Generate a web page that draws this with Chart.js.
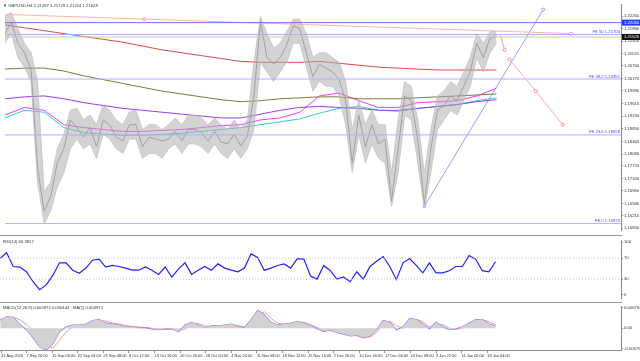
<!DOCTYPE html>
<html>
<head>
<meta charset="utf-8">
<script src="https://cdn.jsdelivr.net/npm/chart.js@4.4.1/dist/chart.umd.min.js"></script>
<style>
  html, body { margin: 0; padding: 0; background: #fff; }
  #wrap { position: relative; width: 640px; height: 361px; overflow: hidden; font-family: 'Liberation Sans', sans-serif; }
  .pane { position: absolute; left: 0; width: 640px; }
  .pane canvas { display: block; }
  .lbl { position: absolute; font-size: 4.2px; line-height: 5px; color: #333; white-space: nowrap; }
  .sep { position: absolute; left: 0; width: 622px; height: 1px; background: #9a9a9a; }
</style>
</head>
<body>
<div id="wrap">
  <div class="pane" style="top:0;height:235px"><canvas id="main" width="640" height="235"></canvas></div>
  <div class="pane" style="top:237px;height:65px"><canvas id="rsi" width="640" height="65"></canvas></div>
  <div class="pane" style="top:303px;height:58px"><canvas id="macd" width="640" height="58"></canvas></div>
  <div class="sep" style="top:235px"></div>
  <div class="sep" style="top:302px"></div>
  <div class="lbl" style="left:3px;top:3px">▼ GBPUSD,H4 1.21287 1.21729 1.21214 1.21628</div>
  <div class="lbl" style="left:3px;top:239px">RSI(14) 66.3817</div>
  <div class="lbl" style="left:3px;top:305px">MACD(12,26,9) 0.000972 0.000444 ~MA(1) 0.000972</div>
</div>
<script>
// bar index axis (H4 bars), 31 Aug 2020 .. 19 Jan 2021
const X_MAX = 752;
const STEP = 8;     // bars between samples of price / indicators
const MA_STEP = 24; // bars between samples of moving averages

// price every 8 bars: high, low and close of each group
const highs = [1.22251, 1.22368, 1.21874, 1.21438, 1.21147, 1.20276, 1.16934, 1.17225, 1.18242, 1.18678,
  1.19404, 1.19462, 1.19113, 1.19259, 1.18968, 1.19549, 1.19404, 1.19113, 1.18968, 1.19346,
  1.19404, 1.18823, 1.18968, 1.18968, 1.18823, 1.18968, 1.19172, 1.18968, 1.19259, 1.19259,
  1.19172, 1.18968, 1.19172, 1.18968, 1.18823, 1.19113, 1.18823, 1.19113, 1.20857, 1.22251,
  1.21728, 1.21293, 1.21438, 1.21786, 1.22164, 1.22164, 1.21728, 1.21002, 1.21147, 1.21147,
  1.21002, 1.20857, 1.20276, 1.18823, 1.19695, 1.18968, 1.19404, 1.18968, 1.18968, 1.17515,
  1.19113, 1.20276, 1.20130, 1.19113, 1.17515, 1.18823, 1.19840, 1.19985, 1.20276, 1.20130,
  1.20566, 1.21002, 1.21728, 1.21438, 1.21786, 1.21786];
const lows = [1.21438, 1.21728, 1.21002, 1.20711, 1.20276, 1.17225, 1.15975, 1.16353, 1.17080, 1.17515,
  1.18242, 1.18532, 1.18242, 1.18387, 1.17951, 1.18678, 1.18532, 1.18242, 1.18096, 1.18532,
  1.18532, 1.17951, 1.18096, 1.18096, 1.17951, 1.18242, 1.18387, 1.18096, 1.18387, 1.18387,
  1.18300, 1.18096, 1.18387, 1.18096, 1.17951, 1.18242, 1.17951, 1.18242, 1.18823, 1.20857,
  1.20566, 1.20276, 1.20566, 1.20857, 1.21438, 1.21438, 1.20711, 1.19985, 1.20276, 1.20130,
  1.20130, 1.19840, 1.18968, 1.17515, 1.18678, 1.17806, 1.18387, 1.17951, 1.17806, 1.16498,
  1.17515, 1.19259, 1.19113, 1.17806, 1.16440, 1.17515, 1.18823, 1.19113, 1.19404, 1.19259,
  1.19695, 1.20130, 1.21002, 1.20566, 1.21147, 1.21438];
const closes = [1.21728, 1.22077, 1.21438, 1.21147, 1.20624, 1.17661, 1.16353, 1.16789, 1.17806, 1.18242,
  1.19113, 1.18881, 1.18590, 1.18881, 1.18300, 1.19113, 1.18968, 1.18590, 1.18474, 1.18968,
  1.18968, 1.18300, 1.18590, 1.18532, 1.18474, 1.18532, 1.18765, 1.18474, 1.18823, 1.18823,
  1.18736, 1.18474, 1.18765, 1.18445, 1.18387, 1.18678, 1.18329, 1.18619, 1.19840, 1.22100,
  1.21002, 1.20799, 1.21002, 1.21380, 1.21960, 1.21874, 1.21147, 1.20421, 1.20799, 1.20682,
  1.20566, 1.20334, 1.19695, 1.17800, 1.19259, 1.18300, 1.18968, 1.18387, 1.18532, 1.16650,
  1.18242, 1.19840, 1.19695, 1.18532, 1.16550, 1.18242, 1.19404, 1.19549, 1.19840, 1.19695,
  1.20130, 1.20566, 1.21438, 1.21002, 1.21583, 1.21641];

// moving averages every 24 bars
const ma200 = [1.21990, 1.21903, 1.21816, 1.21728, 1.21641, 1.21554, 1.21467, 1.21351, 1.21234, 1.21147,
  1.21060, 1.20973, 1.20886, 1.20857, 1.20857, 1.20857, 1.20886, 1.20828, 1.20770, 1.20711,
  1.20682, 1.20653, 1.20624, 1.20624, 1.20624, 1.20624];
const ma100 = [1.20653, 1.20682, 1.20682, 1.20595, 1.20450, 1.20334, 1.20217, 1.20101, 1.19985, 1.19898,
  1.19811, 1.19724, 1.19666, 1.19695, 1.19753, 1.19782, 1.19811, 1.19811, 1.19753, 1.19753,
  1.19753, 1.19782, 1.19811, 1.19840, 1.19869, 1.19898];
const ma50 = [1.19753, 1.19811, 1.19840, 1.19753, 1.19637, 1.19549, 1.19462, 1.19404, 1.19346, 1.19288,
  1.19230, 1.19172, 1.19172, 1.19288, 1.19404, 1.19491, 1.19520, 1.19491, 1.19462, 1.19404,
  1.19404, 1.19462, 1.19520, 1.19578, 1.19666, 1.19724];
const ma20 = [1.19259, 1.19491, 1.19404, 1.18968, 1.18881, 1.18823, 1.18765, 1.18765, 1.18794, 1.18823,
  1.18881, 1.18939, 1.18968, 1.19113, 1.19172, 1.19346, 1.19840, 1.19927, 1.19695, 1.19491,
  1.19491, 1.19637, 1.19666, 1.19695, 1.19840, 1.20072];
const ma30 = [1.19172, 1.19404, 1.19346, 1.18881, 1.18736, 1.18678, 1.18649, 1.18649, 1.18678, 1.18707,
  1.18765, 1.18823, 1.18881, 1.18968, 1.19055, 1.19143, 1.19317, 1.19462, 1.19520, 1.19404,
  1.19375, 1.19462, 1.19520, 1.19578, 1.19695, 1.19782];

// levels and drawn objects
const feNames = ['FE 50', 'FE 38.2', 'FE 23.6', 'FE 0'];
const feLevels = [1.21700, 1.20351, 1.18658, 1.15973];
const blueLevel = 1.22060;
const lastPrice = 1.21625;
const priceTicks = [1.22260, 1.21880, 1.21500, 1.21120, 1.20750, 1.20370, 1.19990, 1.19610, 1.19230,
  1.18850, 1.18460, 1.18080, 1.17720, 1.17340, 1.16960, 1.16580, 1.16210, 1.15830];
const pinkTrendBars = [0, 170, 691];
const pinkTrendPrices = [1.22309, 1.22167, 1.21728];
const blueTrendBars = [512, 657];
const blueTrendPrices = [1.16498, 1.22455];
const projA_Bars = [605, 610];
const projA_Prices = [1.21670, 1.21234];
const projB_Bars = [616, 648, 681];
const projB_Prices = [1.20944, 1.19985, 1.18968];

// RSI(14) every 8 bars
const rsi = [69, 80, 54, 53, 44, 25, 10, 19, 37, 61, 61, 47, 41, 51, 66, 68, 53, 56, 54, 51,
  47, 47, 53, 47, 39, 53, 34, 49, 61, 39, 47, 54, 47, 59, 51, 47, 44, 51, 78, 71,
  47, 51, 56, 59, 51, 69, 68, 36, 30, 56, 46, 30, 34, 25, 44, 30, 54, 64, 73, 54,
  29, 61, 69, 56, 42, 61, 42, 42, 46, 54, 54, 75, 68, 46, 44, 63];
const rsiLevels = [30, 70];

// MACD(12,26,9) every 8 bars
const macdMain = [0.0026, 0.0039, 0.0036, 0.0011, -0.0005, -0.0032, -0.0063, -0.0072, -0.0051, -0.0011,
  0.0005, 0.0011, 0.0011, 0.0014, 0.0026, 0.0029, 0.0017, 0.0014, 0.0011, 0.0005,
  0.0005, 0.0002, 0.0002, -0.0002, -0.0005, -0.0002, -0.0002, -0.0011, 0.0011, 0.0020,
  0.0011, 0.0002, 0.0008, 0.0008, 0.0011, 0.0014, 0.0005, 0.0002, 0.0029, 0.0060,
  0.0045, 0.0020, 0.0011, 0.0014, 0.0017, 0.0023, 0.0017, 0.0008, -0.0002, -0.0011,
  -0.0005, -0.0014, -0.0020, -0.0026, -0.0023, -0.0032, -0.0026, -0.0005, 0.0026, 0.0020,
  -0.0005, 0.0005, 0.0032, 0.0029, 0.0014, -0.0002, 0.0020, 0.0005, -0.0005, -0.0002,
  0.0005, 0.0017, 0.0029, 0.0029, 0.0014, 0.0008];
const macdSignal = [0.0030, 0.0034, 0.0037, 0.0028, 0.0012, -0.0008, -0.0035, -0.0060, -0.0066, -0.0040,
  -0.0012, 0.0004, 0.0010, 0.0012, 0.0020, 0.0026, 0.0024, 0.0018, 0.0014, 0.0009,
  0.0006, 0.0004, 0.0002, 0.0000, -0.0003, -0.0003, -0.0002, -0.0008, -0.0002, 0.0014,
  0.0016, 0.0008, 0.0005, 0.0007, 0.0010, 0.0012, 0.0009, 0.0004, 0.0012, 0.0045,
  0.0055, 0.0033, 0.0017, 0.0013, 0.0015, 0.0020, 0.0020, 0.0012, 0.0002, -0.0007,
  -0.0008, -0.0011, -0.0017, -0.0023, -0.0025, -0.0029, -0.0029, -0.0014, 0.0014, 0.0024,
  0.0008, 0.0000, 0.0020, 0.0030, 0.0022, 0.0004, 0.0012, 0.0012, 0.0000, -0.0003,
  0.0001, 0.0011, 0.0024, 0.0029, 0.0022, 0.0012];
const macdTicks = [0.006794, 0, -0.006794];

// date axis
const dateTickBars = [1, 32, 63, 94, 125, 156, 187, 218, 249, 280, 311, 342, 373, 404, 435, 466, 497, 528, 559, 590];
const dateLabels = ['31 Aug 2020', '7 Sep 20:00', '15 Sep 00:00', '22 Sep 04:00', '29 Sep 08:00', '6 Oct 12:00',
  '13 Oct 16:00', '20 Oct 20:00', '28 Oct 00:00', '4 Nov 04:00', '11 Nov 08:00', '18 Nov 12:00', '25 Nov 16:00',
  '2 Dec 20:00', '10 Dec 00:00', '17 Dec 04:00', '24 Dec 08:00', '3 Jan 22:00', '11 Jan 00:00', '18 Jan 04:00'];

const FONT = 'Liberation Sans';
const AXIS = '#8a8a8a';
const series = (arr, step) => arr.map((v, i) => ({ x: i * step, y: v }));
const pairs = (xs, ys) => xs.map((x, i) => ({ x: x, y: ys[i] }));
const flat = (v) => [{ x: 0, y: v }, { x: X_MAX, y: v }];

const lineDs = (data, color, width, extra) => Object.assign({
  type: 'line', data: data, borderColor: color, borderWidth: width,
  pointRadius: 0, tension: 0, fill: false
}, extra || {});

const rightAxis = (min, max, ticks, fmt) => ({
  position: 'right', min: min, max: max,
  afterFit: (s) => { s.width = 19; },
  afterBuildTicks: (s) => { s.ticks = ticks.map(v => ({ value: v })); },
  ticks: { autoSkip: false, padding: 1, color: '#333', font: { size: 4.2, family: FONT }, callback: fmt },
  grid: { drawOnChartArea: false, tickLength: 2, color: AXIS },
  border: { color: AXIS }
});

const hiddenX = { type: 'linear', min: 0, max: X_MAX, display: false };
const baseOpts = {
  responsive: false, animation: false,
  layout: { padding: 0 },
  plugins: { legend: { display: false }, tooltip: { enabled: false } }
};

// labels on Fibonacci lines and price boxes on the axis
const mainExtras = {
  id: 'mainExtras',
  afterDraw(chart) {
    const { ctx, chartArea: a, scales: { y } } = chart;
    ctx.save();
    ctx.font = '4.2px "' + FONT + '"';
    ctx.textAlign = 'right';
    ctx.textBaseline = 'bottom';
    ctx.fillStyle = '#4a4aff';
    feLevels.forEach((v, i) => ctx.fillText(feNames[i] + ' ' + v.toFixed(5), a.right - 1, y.getPixelForValue(v) - 0.5));
    const box = (v, bg) => {
      const py = y.getPixelForValue(v);
      ctx.fillStyle = bg;
      ctx.fillRect(a.right + 1, py - 3, 18, 6);
      ctx.fillStyle = '#fff';
      ctx.textAlign = 'left';
      ctx.textBaseline = 'middle';
      ctx.fillText(v.toFixed(5), a.right + 3, py);
    };
    box(blueLevel, '#1f3cff');
    box(lastPrice, '#111');
    ctx.restore();
  }
};

new Chart(document.getElementById('main'), {
  type: 'line',
  data: {
    datasets: [
      lineDs(flat(blueLevel), '#6f6fff', 1),
      lineDs(flat(lastPrice), '#c8c8c8', 1),
      ...feLevels.map(v => lineDs(flat(v), '#aeb0ff', 1)),
      lineDs(pairs(pinkTrendBars, pinkTrendPrices), '#ffb0b0', 1, { pointRadius: [0, 1.5, 1.5], pointBorderColor: '#ff8080', pointBackgroundColor: '#fff', pointBorderWidth: 0.8 }),
      lineDs(series(lows, STEP), '#c2c2c2', 0.8),
      lineDs(series(highs, STEP), '#c2c2c2', 0.8, { fill: '-1', backgroundColor: 'rgba(175,175,175,0.55)' }),
      lineDs(series(ma200, MA_STEP), '#e04848', 1),
      lineDs(series(ma100, MA_STEP), '#7c7a3a', 1),
      lineDs(series(ma50, MA_STEP), '#9a3cf0', 1),
      lineDs(series(ma30, MA_STEP), '#33cccc', 1),
      lineDs(series(ma20, MA_STEP), '#ff33ff', 1),
      lineDs(series(closes, STEP), '#8e8e8e', 1),
      lineDs(pairs(blueTrendBars, blueTrendPrices), '#9a9cff', 1, { pointRadius: 1.5, pointBorderColor: '#8a8cff', pointBackgroundColor: '#fff', pointBorderWidth: 0.8 }),
      lineDs(pairs(projA_Bars, projA_Prices), '#ff9a9a', 1, { pointRadius: [0, 1.5], pointBorderColor: '#ff7a7a', pointBackgroundColor: '#fff', pointBorderWidth: 0.8 }),
      lineDs(pairs(projB_Bars, projB_Prices), '#ffa8a8', 1, { pointRadius: 1.5, pointBorderColor: '#ff7a7a', pointBackgroundColor: '#fff', pointBorderWidth: 0.8 })
    ]
  },
  options: Object.assign({}, baseOpts, {
    scales: {
      x: hiddenX,
      y: rightAxis(1.15772, 1.22600, priceTicks, v => v.toFixed(5))
    }
  }),
  plugins: [mainExtras]
});

new Chart(document.getElementById('rsi'), {
  type: 'line',
  data: {
    datasets: [
      ...rsiLevels.map(v => lineDs(flat(v), '#c4c4c4', 1, { borderDash: [1, 2] })),
      lineDs(series(rsi, STEP), '#2323f0', 1.2)
    ]
  },
  options: Object.assign({}, baseOpts, {
    scales: {
      x: hiddenX,
      y: rightAxis(-6.8, 103.4, [100, 70, 30, 0], v => String(v))
    }
  })
});

new Chart(document.getElementById('macd'), {
  type: 'line',
  data: {
    datasets: [
      lineDs(series(macdMain, STEP), 'rgba(0,0,0,0)', 0, { fill: 'origin', backgroundColor: '#d2d2d2' }),
      lineDs(series(macdSignal, STEP), '#ff7b7b', 0.8),
      lineDs(series(macdMain, STEP), '#7676ff', 1.1)
    ]
  },
  options: Object.assign({}, baseOpts, {
    scales: {
      x: {
        type: 'linear', min: 0, max: X_MAX, position: 'bottom',
        afterFit: (s) => { s.height = 11; },
        afterBuildTicks: (s) => { s.ticks = dateTickBars.map(v => ({ value: v })); },
        ticks: { autoSkip: false, maxRotation: 0, align: 'start', padding: 1, color: '#333', font: { size: 3.9, family: FONT }, callback: (v, i) => dateLabels[i] },
        grid: { drawOnChartArea: false, tickLength: 3, color: AXIS },
        border: { color: AXIS }
      },
      y: rightAxis(-0.00726, 0.00726, macdTicks, v => (v === 0 ? '0.00' : v.toFixed(6)))
    }
  })
});
</script>
</body>
</html>
